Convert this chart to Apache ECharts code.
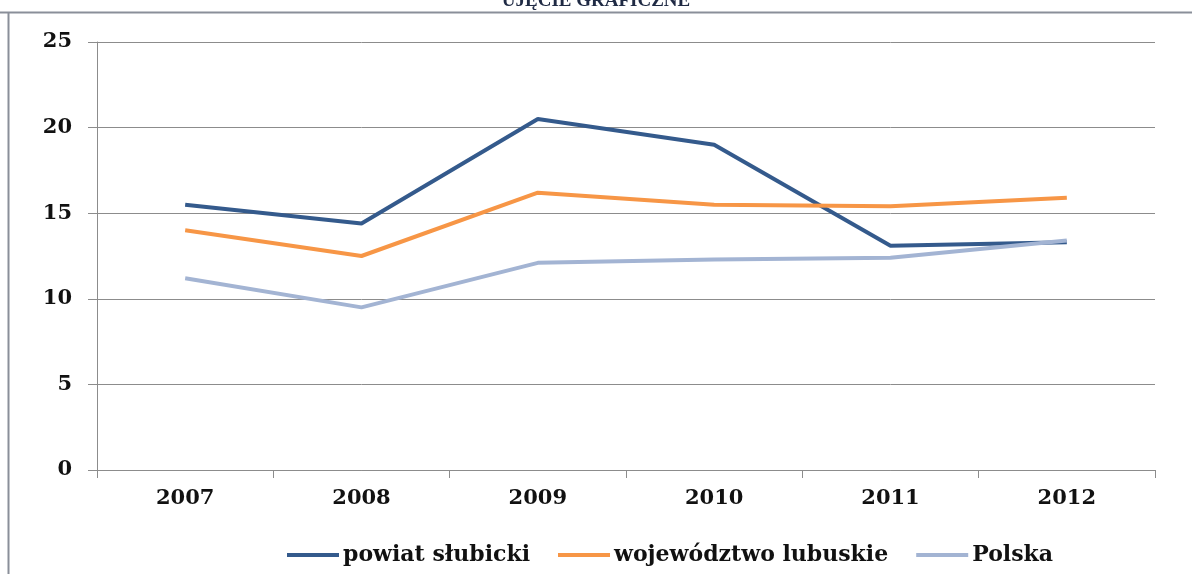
<!DOCTYPE html>
<html>
<head>
<meta charset="utf-8">
<script src="https://cdn.jsdelivr.net/npm/echarts@6/dist/echarts.min.js"></script>
<style>
  html, body { margin: 0; padding: 0; background: #fff; }
  #chart { width: 1192px; height: 574px; }
</style>
</head>
<body>
<div id="chart"></div>
<script>
// data
var years = ['2007', '2008', '2009', '2010', '2011', '2012'];
var powiat = [15.5, 14.4, 20.5, 19.0, 13.1, 13.3];
var wojewodztwo = [14.0, 12.5, 16.2, 15.5, 15.4, 15.9];
var polska = [11.2, 9.5, 12.1, 12.3, 12.4, 13.4];
var yTicks = [0, 5, 10, 15, 20, 25];

var chart = echarts.init(document.getElementById('chart'));
var serif = '"DejaVu Serif", "Liberation Serif", serif';

var option = {
  animation: false,
  backgroundColor: '#fff',
  graphic: [
    // frame lines of the original page
    { type: 'line', shape: { x1: 0, y1: 12.5, x2: 1192, y2: 12.5 }, style: { stroke: '#8a8f99', lineWidth: 2 } },
    { type: 'line', shape: { x1: 8.5, y1: 12, x2: 8.5, y2: 574 }, style: { stroke: '#8a8f99', lineWidth: 2 } },
    { type: 'text', left: 'center', top: -8, style: { text: 'UJĘCIE GRAFICZNE', font: 'bold 19px "Liberation Serif", serif', fill: '#1f2a44' } }
  ],
  grid: { left: 97, right: 37, top: 42, bottom: 104, containLabel: false },
  legend: {
    bottom: 3,
    left: 282,
    itemWidth: 52,
    itemHeight: 4,
    itemGap: 28,
    icon: 'rect',
    textStyle: { fontFamily: serif, fontWeight: 'bold', fontSize: 22, color: '#111', padding: [0, 0, 0, -1] },
    data: ['powiat słubicki', 'województwo lubuskie', 'Polska']
  },
  xAxis: {
    type: 'category',
    data: years,
    boundaryGap: true,
    axisLine: { lineStyle: { color: '#8c8c8c', width: 1 } },
    axisTick: { show: true, length: 8, lineStyle: { color: '#8c8c8c' } },
    axisLabel: { fontFamily: serif, fontWeight: 'bold', fontSize: 21, color: '#111', margin: 18 },
    splitLine: { show: false }
  },
  yAxis: {
    type: 'value',
    min: 0,
    max: 25,
    interval: 5,
    axisLine: { show: true, lineStyle: { color: '#8c8c8c', width: 1 } },
    axisTick: { show: true, length: 9, lineStyle: { color: '#8c8c8c' } },
    axisLabel: {
      fontFamily: serif, fontWeight: 'bold', fontSize: 21, color: '#111', margin: 25,
      formatter: function (v) { return yTicks.indexOf(v) >= 0 ? String(v) : ''; }
    },
    splitLine: { show: true, lineStyle: { color: '#8c8c8c', width: 1 } }
  },
  series: [
    {
      name: 'powiat słubicki',
      type: 'line',
      data: powiat,
      symbol: 'none',
      lineStyle: { color: '#345a8c', width: 4 },
      itemStyle: { color: '#345a8c' }
    },
    {
      name: 'województwo lubuskie',
      type: 'line',
      data: wojewodztwo,
      symbol: 'none',
      lineStyle: { color: '#f79646', width: 4 },
      itemStyle: { color: '#f79646' }
    },
    {
      name: 'Polska',
      type: 'line',
      data: polska,
      symbol: 'none',
      lineStyle: { color: '#a3b4d3', width: 4 },
      itemStyle: { color: '#a3b4d3' }
    }
  ]
};
chart.setOption(option);

window.addEventListener('resize', function () { chart.resize(); });
</script>
</body>
</html>
